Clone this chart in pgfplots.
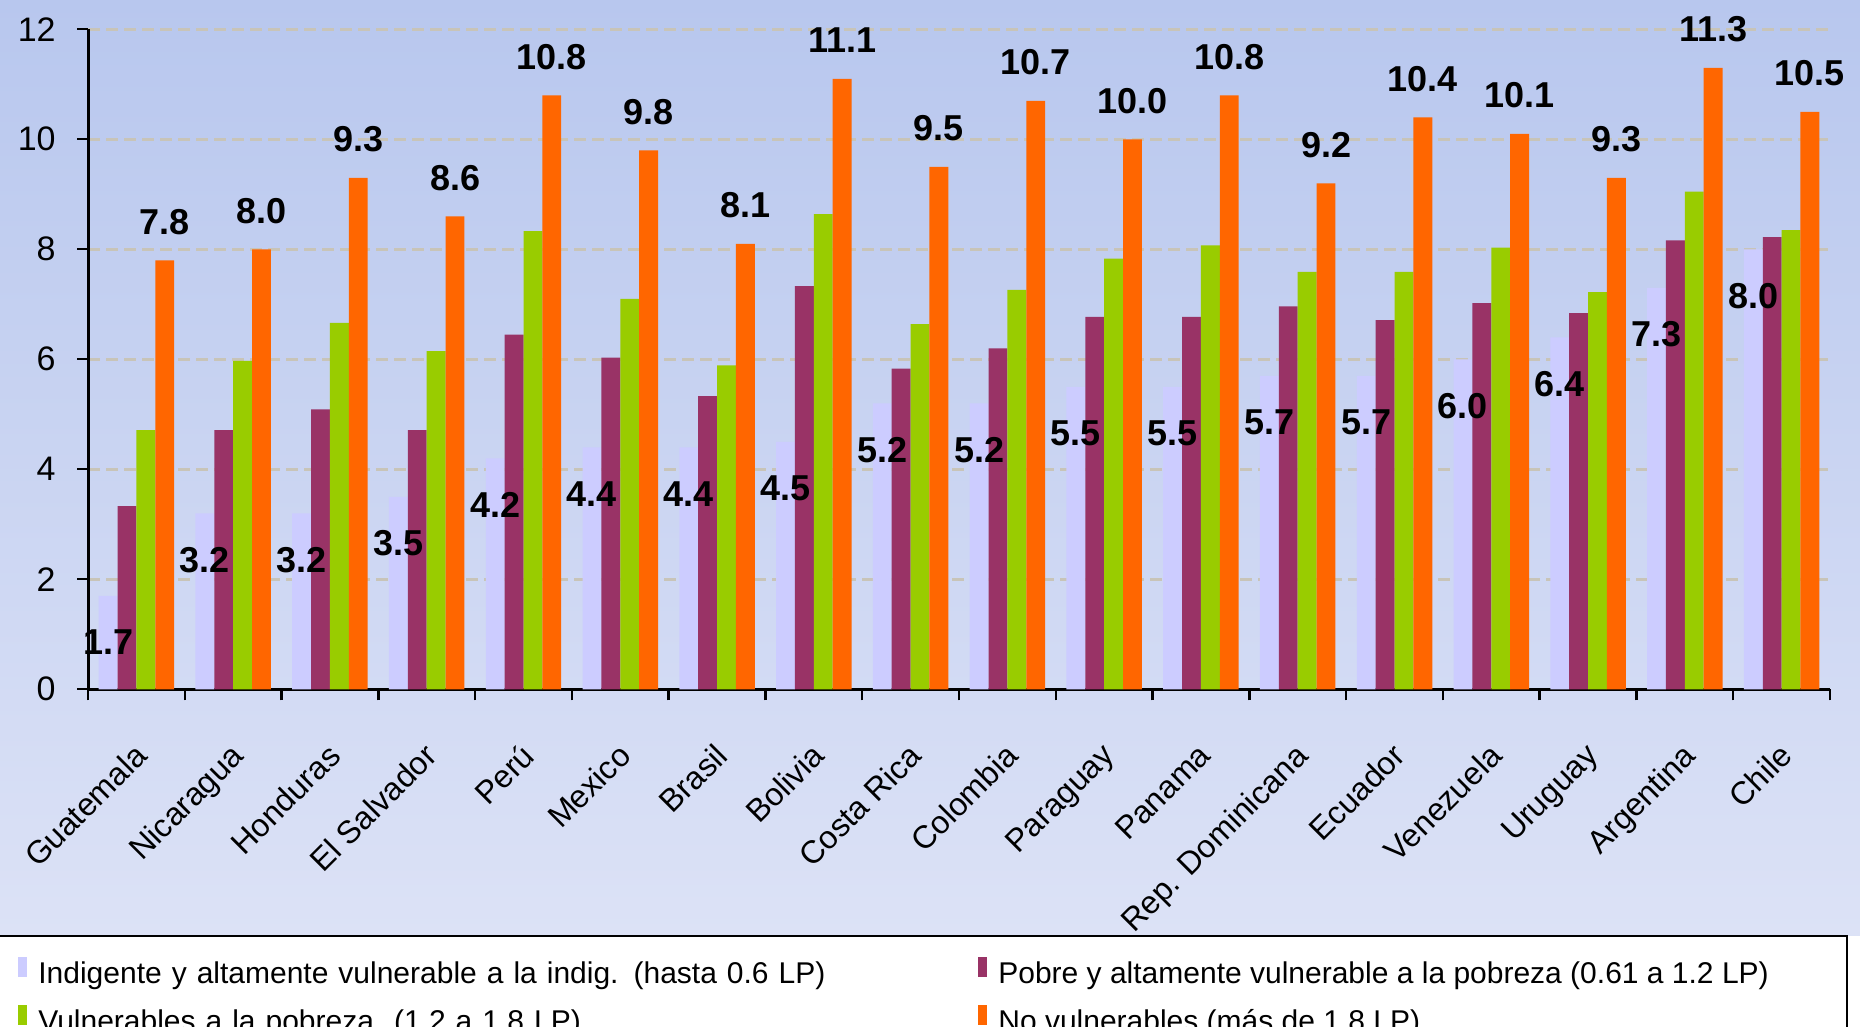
\documentclass[border=0pt]{standalone}
\usepackage{pgfplots}
\pgfplotsset{compat=1.18}
\usepackage{pgfplotstable}
\usepackage{fontspec}
\setmainfont{Liberation Sans}
\definecolor{lav}{RGB}{204,204,255}
\definecolor{plum}{RGB}{153,51,102}
\definecolor{lime}{RGB}{153,204,0}
\definecolor{orng}{RGB}{255,102,0}
\definecolor{gridc}{RGB}{200,196,184}
\definecolor{bgtop}{RGB}{184,199,238}
\definecolor{bgbot}{RGB}{220,226,246}
\pgfplotstableread{
x  a    b     c     d
0  1.7  3.33  4.71  7.8
1  3.2  4.71  5.97  8.0
2  3.2  5.09  6.66  9.3
3  3.5  4.71  6.15  8.6
4  4.2  6.45  8.33  10.8
5  4.4  6.03  7.10  9.8
6  4.4  5.33  5.89  8.1
7  4.5  7.33  8.64  11.1
8  5.2  5.83  6.64  9.5
9  5.2  6.20  7.26  10.7
10 5.5  6.77  7.83  10.0
11 5.5  6.77  8.07  10.8
12 5.7  6.96  7.59  9.2
13 5.7  6.71  7.59  10.4
14 6.0  7.02  8.03  10.1
15 6.4  6.84  7.22  9.3
16 7.3  8.16  9.05  11.3
17 8.0  8.22  8.35  10.5
}\datatable
\begin{document}
\begin{tikzpicture}
\useasboundingbox (0,0) rectangle (930pt,513.5pt);
\shade[top color=bgtop, bottom color=bgbot] (0,45.5pt) rectangle (930pt,513.5pt);
\draw[line width=1.3pt, fill=white] (-5pt,-5pt) rectangle (923.5pt,45.5pt);
\begin{axis}[
  at={(44pt,168.85pt)}, anchor=south west,
  scale only axis, width=871pt, height=330pt,
  ymin=0, ymax=12, xmin=-0.5, xmax=17.5,
  axis x line*=bottom, axis y line*=left,
  axis line style={line width=1.5pt, black},
  /pgf/number format/assume math mode=true,
  ybar=0pt, bar width=0.195,
  ytick={0,2,...,12},
  xtick={-0.5,0.5,...,17.5}, xticklabels={},
  extra x ticks={0,1,...,17},
  extra x tick labels={Guatemala, Nicaragua, Honduras, El Salvador, Perú, Mexico, Brasil, Bolivia, Costa Rica, Colombia, Paraguay, Panama, Rep. Dominicana, Ecuador, Venezuela, Uruguay, Argentina, Chile},
  extra x tick style={major tick length=0pt, xticklabel style={xshift=-2pt, yshift=-26pt, rotate=45, anchor=north east, inner sep=0pt, font=\fontsize{16}{16}\selectfont}},
  tick align=outside,
  major tick length=5.5pt,
  tick style={line width=1.2pt, black},
  yticklabel style={inner sep=0pt, xshift=-10.5pt, font=\fontsize{17}{17}\selectfont},
  ymajorgrids,
  major grid style={gridc, line width=1.5pt, dash pattern=on 6pt off 3pt},
  legend columns=2,
  legend cell align=left,
  legend style={at={(axis description cs:-0.0402,-0.4056)}, anchor=north west, draw=none, fill=none, inner sep=0pt,
    font=\fontsize{15}{15}\selectfont, row sep=9pt,
    nodes={inner sep=0pt},
    /tikz/every odd column/.append style={column sep=5.5pt},
    /tikz/column 2/.style={text width=470pt, align=left}},
  legend image code/.code={\fill[#1] (0pt,-1.5pt) rectangle (4.5pt,8.5pt);},
]
\addplot[bar shift=-0.2925, draw=none, fill=lav] table[x=x,y=a]{\datatable};
\addplot[bar shift=-0.0975, draw=none, fill=plum] table[x=x,y=b]{\datatable};
\addplot[bar shift=0.0975, draw=none, fill=lime] table[x=x,y=c]{\datatable};
\addplot[bar shift=0.2925, draw=none, fill=orng] table[x=x,y=d]{\datatable};
\addplot[forget plot, bar shift=-0.2925, draw=none, fill=none,
  nodes near coords={\pgfmathprintnumber[fixed,fixed zerofill,precision=1]{\pgfplotspointmeta}},
  nodes near coords style={font=\bfseries\fontsize{18}{18}\selectfont, inner sep=0pt, anchor=base, yshift=-29.5pt, text=black}]
  table[x=x,y=a]{\datatable};
\addplot[forget plot, bar shift=0.2925, draw=none, fill=none,
  nodes near coords={\pgfmathprintnumber[fixed,fixed zerofill,precision=1]{\pgfplotspointmeta}},
  nodes near coords style={font=\bfseries\fontsize{18}{18}\selectfont, inner sep=0pt, anchor=base, yshift=13pt, text=black}]
  table[x=x,y=d]{\datatable};
\legend{Indigente y altamente vulnerable a la indig. (hasta 0.6 LP),
  Pobre y altamente vulnerable a la pobreza (0.61 a 1.2 LP),
  Vulnerables a la pobreza\ \ (1.2 a 1.8 LP),
  No vulnerables (más de 1.8 LP)}
\end{axis}
\end{tikzpicture}
\end{document}
